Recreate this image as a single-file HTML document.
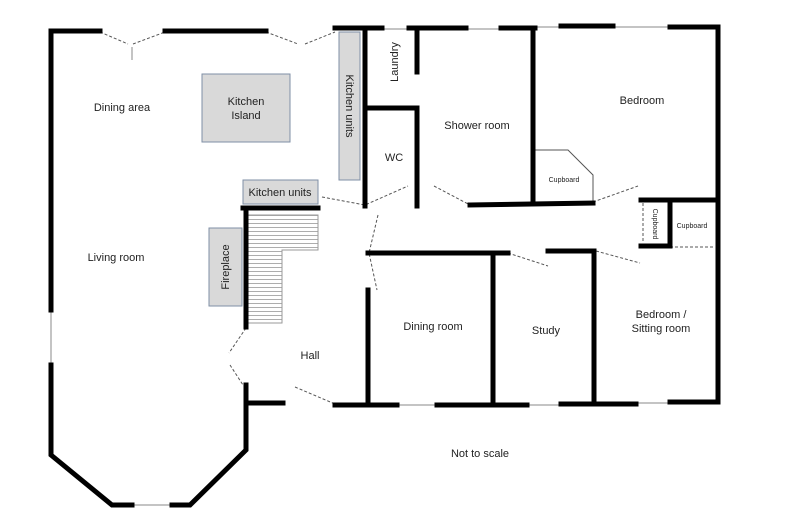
<!DOCTYPE html>
<html><head><style>body{margin:0;background:#fff}svg{display:block}text{font-family:"Liberation Sans",sans-serif;fill:#222}</style></head><body>
<svg width="800" height="526" viewBox="0 0 800 526" xmlns="http://www.w3.org/2000/svg">
<defs><pattern id="st" width="10" height="4" patternUnits="userSpaceOnUse"><rect width="10" height="4" fill="#fff"/><line x1="0" y1="3.5" x2="10" y2="3.5" stroke="#999" stroke-width="0.8"/></pattern></defs>
<g fill="#d9d9d9" stroke="#7f8fa6" stroke-width="1">
<rect x="202" y="74" width="88" height="68"/>
<rect x="339" y="32" width="21" height="148"/>
<rect x="243" y="180" width="75" height="24"/>
<rect x="209" y="228" width="33" height="78"/>
</g>
<path d="M248 215H318V250H282V323H248Z" fill="url(#st)" stroke="#999" stroke-width="1"/>
<g stroke="#888" stroke-width="1" fill="none">
<line x1="51" y1="310" x2="51" y2="365"/>
<line x1="132" y1="505" x2="172" y2="505"/>
<line x1="382" y1="29" x2="409" y2="29"/><line x1="466" y1="29" x2="501" y2="29"/><line x1="535" y1="27" x2="561" y2="27"/><line x1="613" y1="27" x2="670" y2="27"/>
<line x1="397" y1="405" x2="437" y2="405"/><line x1="527" y1="405" x2="561" y2="405"/><line x1="636" y1="403" x2="670" y2="403"/>
<line x1="132" y1="47" x2="132" y2="60"/>
<path d="M535 150H568L593 175V202" stroke="#555"/>
</g>
<g stroke="#555" stroke-width="1" stroke-dasharray="3,2" fill="none">
<path d="M100 32L128 44M133 44L165 32M266 32L298 44M305 44L335 32"/>
<path d="M322 197L365 205L408 186M434 186L470 205M593 202L638 186"/>
<path d="M643 203V243M670 247H715"/>
<path d="M378 215L369 253L377 290M508 253L548 266M596 251L640 263"/>
<path d="M246 328L229 353M230 365L243 385M295 387L335 404"/>
</g>
<g stroke="#000" stroke-width="5" fill="none" stroke-linecap="square">
<path d="M100 31H51V310"/>
<path d="M51 365V455L112 505H132"/>
<path d="M172 505H190L246 450V385"/>
<line x1="246" y1="403" x2="283" y2="403"/>
<line x1="165" y1="31" x2="266" y2="31"/>
<line x1="335" y1="28" x2="382" y2="28"/>
<line x1="365" y1="28" x2="365" y2="206"/>
<path d="M365 108H417V206"/>
<line x1="417" y1="28" x2="417" y2="72"/>
<line x1="409" y1="28" x2="466" y2="28"/>
<line x1="501" y1="28" x2="535" y2="28"/>
<line x1="561" y1="26" x2="613" y2="26"/>
<path d="M670 27H718V402H670"/>
<line x1="533" y1="28" x2="533" y2="203"/>
<line x1="470" y1="205" x2="593" y2="203"/>
<path d="M641 200H718M670 200V246H641"/>
<path d="M368 253H508M493 253V405M548 251H594V403"/>
<line x1="368" y1="290" x2="368" y2="405"/>
<path d="M335 405H397M437 405H527M561 404H636"/>
<path d="M243 208H318M246 208V327"/>
</g>
<g font-size="11">
<text x="122" y="111" text-anchor="middle">Dining area</text>
<text x="246" y="105" text-anchor="middle">Kitchen</text><text x="246" y="119" text-anchor="middle">Island</text>
<text x="280" y="196" text-anchor="middle">Kitchen units</text>
<text x="116" y="261" text-anchor="middle">Living room</text>
<text x="310" y="359" text-anchor="middle">Hall</text>
<text x="394" y="161" text-anchor="middle">WC</text>
<text x="477" y="129" text-anchor="middle">Shower room</text>
<text x="642" y="104" text-anchor="middle">Bedroom</text>
<text x="433" y="330" text-anchor="middle">Dining room</text>
<text x="546" y="334" text-anchor="middle">Study</text>
<text x="661" y="318" text-anchor="middle">Bedroom /</text><text x="661" y="332" text-anchor="middle">Sitting room</text>
<text x="480" y="457" text-anchor="middle">Not to scale</text>
<text transform="translate(346,106) rotate(90)" text-anchor="middle">Kitchen units</text>
<text transform="translate(398,62) rotate(-90)" text-anchor="middle">Laundry</text>
<text transform="translate(229,267) rotate(-90)" text-anchor="middle">Fireplace</text>
</g>
<g font-size="7">
<text x="564" y="182" text-anchor="middle">Cupboard</text>
<text x="692" y="228" text-anchor="middle">Cupboard</text>
<text transform="translate(653,224) rotate(90)" text-anchor="middle">Cupboard</text>
</g>
</svg>
</body></html>
